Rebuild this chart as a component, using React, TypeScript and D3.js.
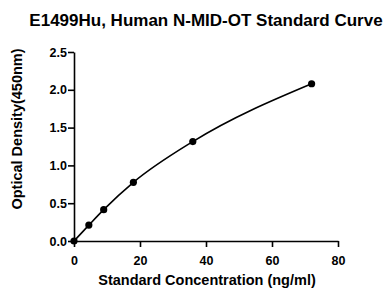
import { useEffect, useRef } from "react";
import * as d3 from "d3";

// standard points
const concentrations = [0, 4.5, 9, 18, 36, 72];
const densities = [0, 0.21, 0.415, 0.776, 1.315, 2.08];
const xTicks = [0, 20, 40, 60, 80];
const yTicks = [0, 0.5, 1.0, 1.5, 2.0, 2.5];

const W = 385;
const H = 289;
const M = { left: 74, right: 47, top: 52, bottom: 48 };

export default function App() {
  const ref = useRef<SVGSVGElement>(null);

  useEffect(() => {
    const svg = d3.select(ref.current);
    svg.selectAll("*").remove();
    const font = "Arial, 'Liberation Sans', sans-serif";

    const x = d3.scaleLinear().domain([0, 80]).range([M.left, W - M.right]);
    const y = d3.scaleLinear().domain([0, 2.5]).range([H - M.bottom, M.top]);

    // title
    svg
      .append("text")
      .attr("x", 206)
      .attr("y", 26)
      .attr("text-anchor", "middle")
      .style("font", `bold 17px ${font}`)
      .text("E1499Hu, Human N-MID-OT Standard Curve");

    const xAxis = svg
      .append("g")
      .attr("transform", `translate(0,${H - M.bottom})`)
      .call(d3.axisBottom(x).tickValues(xTicks).tickSize(6).tickSizeOuter(0));
    const yAxis = svg
      .append("g")
      .attr("transform", `translate(${M.left},0)`)
      .call(
        d3
          .axisLeft(y)
          .tickValues(yTicks)
          .tickFormat(d3.format(".1f"))
          .tickSize(6)
          .tickSizeOuter(0)
      );
    [xAxis, yAxis].forEach((g) => {
      g.selectAll("path, line").attr("stroke", "#000").attr("stroke-width", 1.6);
      g.selectAll("text")
        .attr("fill", "#000")
        .style("font", `bold 12.5px ${font}`);
    });
    xAxis.selectAll("text").attr("y", 0).attr("dy", 0).attr("transform", "translate(0,23.5)");
    yAxis.selectAll("text").attr("x", -7);

    // fitted curve
    const pts = concentrations.map((c, i) => [c, densities[i]] as [number, number]);
    const line = d3
      .line<[number, number]>()
      .x((d) => x(d[0]))
      .y((d) => y(d[1]))
      .curve(d3.curveMonotoneX);
    svg
      .append("path")
      .datum(pts)
      .attr("d", line)
      .attr("fill", "none")
      .attr("stroke", "#000")
      .attr("stroke-width", 1.6);

    svg
      .append("g")
      .selectAll("circle")
      .data(pts)
      .join("circle")
      .attr("cx", (d) => x(d[0]))
      .attr("cy", (d) => y(d[1]))
      .attr("r", 3.6)
      .attr("fill", "#000");

    // axis titles
    svg
      .append("text")
      .attr("x", 207)
      .attr("y", 285)
      .attr("text-anchor", "middle")
      .style("font", `bold 14.5px ${font}`)
      .text("Standard Concentration (ng/ml)");
    svg
      .append("text")
      .attr("transform", `translate(21.5,${129}) rotate(-90)`)
      .attr("text-anchor", "middle")
      .style("font", `bold 14.5px ${font}`)
      .text("Optical Density(450nm)");
  }, []);

  return (
    <svg
      ref={ref}
      width={W}
      height={H}
      style={{ position: "absolute", left: 0, top: 0, background: "#fff" }}
    />
  );
}
